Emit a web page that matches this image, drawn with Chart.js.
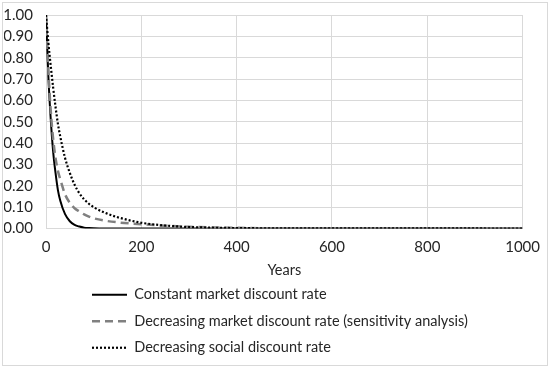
<!DOCTYPE html>
<html>
<head>
<meta charset="utf-8">
<script src="https://cdn.jsdelivr.net/npm/chart.js@4.4.1/dist/chart.umd.min.js"></script>
<style>
  html, body { margin: 0; padding: 0; background: #fff; }
  #wrap { position: relative; width: 550px; height: 369px; }
  #frame { position: absolute; left: 2px; top: 2px; width: 544px; height: 362px; border: 1px solid #d9d9d9; pointer-events: none; }
</style>
</head>
<body>
<div id="wrap">
  <canvas id="discountChart" width="550" height="369"></canvas>
  <div id="frame"></div>
</div>
<script>
var years = [0, 5, 10, 15, 20, 25, 30, 40, 50, 60, 70, 80, 90, 100, 120, 150, 200, 250, 300, 400, 500, 1000];

// discount factors
var constantMarket   = [1.00, 0.71, 0.51, 0.36, 0.26, 0.18, 0.13, 0.067, 0.034, 0.017, 0.009, 0.004, 0.002, 0.001, 0, 0, 0, 0, 0, 0, 0, 0];
var decreasingMarket = [1.00, 0.74, 0.55, 0.42, 0.33, 0.27, 0.23, 0.16, 0.12, 0.095, 0.08, 0.066, 0.056, 0.048, 0.038, 0.029, 0.02, 0.013, 0.008, 0.003, 0.001, 0];
var decreasingSocial = [1.00, 0.87, 0.76, 0.66, 0.57, 0.49, 0.43, 0.33, 0.26, 0.205, 0.165, 0.137, 0.116, 0.1, 0.077, 0.053, 0.027, 0.014, 0.007, 0.002, 0.001, 0];

var seriesLabels = [
    'Constant market discount rate',
    'Decreasing market discount rate (sensitivity analysis)',
    'Decreasing social discount rate'
];
var xTicks = [0, 200, 400, 600, 800, 1000];
var xTitle = 'Years';

var fontFamily = 'Lato, "Liberation Sans", sans-serif';
var textColor = '#262626';
var gridColor = '#d9d9d9';

function toPoints(values){
    return years.map(function(y, i){ return {x: y, y: values[i]}; });
}

// move the stacked legend rows so they start under the plot like the original
var legendShift = {
    id: 'legendShift',
    afterLayout: function(chart){
        if (chart.legend) {
            chart.legend.left = 80;
            chart.legend.top = chart.legend.top - 4;
        }
    }
};

var ctx = document.getElementById('discountChart').getContext('2d');
var myChart = new Chart(ctx, {
    type: 'line',
    data: {
        datasets: [{
            label: seriesLabels[0],
            data: toPoints(constantMarket),
            borderColor: '#000000',
            backgroundColor: '#000000',
            borderWidth: 2,
            order: 3
        }, {
            label: seriesLabels[1],
            data: toPoints(decreasingMarket),
            borderColor: '#808080',
            backgroundColor: '#808080',
            borderWidth: 2.5,
            borderDash: [8, 5],
            order: 2
        }, {
            label: seriesLabels[2],
            data: toPoints(decreasingSocial),
            borderColor: '#000000',
            backgroundColor: '#000000',
            borderWidth: 2.2,
            borderDash: [2, 2],
            order: 1
        }]
    },
    options: {
        responsive: false,
        animation: false,
        cubicInterpolationMode: 'monotone',
        elements: {
            point: { radius: 0 }
        },
        layout: {
            padding: { left: 4, right: 27, top: 15, bottom: 0 }
        },
        scales: {
            x: {
                type: 'linear',
                min: 0,
                max: 1000,
                afterBuildTicks: function(axis){
                    axis.ticks = xTicks.map(function(v){ return {value: v}; });
                },
                afterFit: function(axis){
                    axis.height = 51;
                },
                grid: { color: gridColor, drawTicks: false },
                border: { color: gridColor },
                ticks: {
                    color: textColor,
                    padding: 10,
                    maxRotation: 0,
                    font: { family: fontFamily, size: 15 },
                    callback: function(v){ return String(v); }
                },
                title: {
                    display: true,
                    text: xTitle,
                    color: textColor,
                    padding: { top: 0, bottom: 0 },
                    font: { family: fontFamily, size: 14.5 }
                }
            },
            y: {
                min: 0,
                max: 1,
                afterFit: function(axis){
                    axis.width = 42;
                    axis.paddingTop = 0;
                    axis.paddingBottom = 0;
                },
                grid: { color: gridColor, drawTicks: false },
                border: { color: gridColor },
                ticks: {
                    stepSize: 0.1,
                    autoSkip: false,
                    color: textColor,
                    padding: 13,
                    font: { family: fontFamily, size: 15 },
                    callback: function(v){ return Number(v).toFixed(2); }
                }
            }
        },
        plugins: {
            legend: {
                position: 'bottom',
                align: 'start',
                labels: {
                    usePointStyle: true,
                    pointStyle: 'line',
                    pointStyleWidth: 35,
                    padding: 12,
                    color: textColor,
                    font: { family: fontFamily, size: 14.5 },
                    sort: function(a, b){ return a.datasetIndex - b.datasetIndex; },
                    generateLabels: function(chart){
                        var items = Chart.defaults.plugins.legend.labels.generateLabels(chart);
                        items.forEach(function(it){
                            var ds = chart.data.datasets[it.datasetIndex];
                            it.lineDash = ds.borderDash || [];
                            it.lineWidth = ds.borderWidth;
                            it.strokeStyle = ds.borderColor;
                        });
                        return items;
                    }
                }
            },
            tooltip: { enabled: false }
        }
    },
    plugins: [legendShift]
});
</script>
</body>
</html>
